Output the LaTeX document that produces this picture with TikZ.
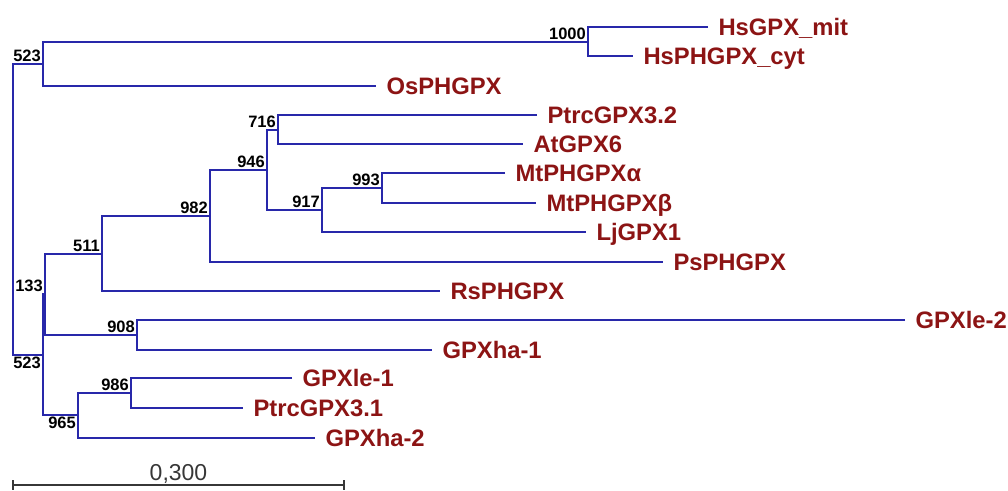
\documentclass[tikz,border=0pt]{standalone}
\usepackage{fontspec}
\setmainfont{Liberation Sans}
\definecolor{TreeBlue}{RGB}{40, 40, 170}
\definecolor{LeafRed}{RGB}{140, 20, 20}
\definecolor{ScaleGray}{RGB}{55, 55, 55}
\usetikzlibrary{positioning}

\tikzset{
  branch/.style={draw=TreeBlue, line width=1.8pt},
  leaf/.style={anchor=west, inner sep=0pt, outer xsep=10.5pt, outer ysep=0pt,
    text height=17pt, text depth=0pt, text=LeafRed,
    font=\fontsize{23.8}{26}\selectfont\bfseries},
  boot/.style={anchor=south east, inner sep=2pt,
    font=\fontsize{16.5}{18}\selectfont\bfseries},
  bootlow/.style={boot, anchor=north east},
  scalebar/.style={draw=ScaleGray, line width=1.8pt}
}

\begin{document}
\begin{tikzpicture}[x=1pt, y=-1pt]
    \useasboundingbox (0,0) rectangle (1008,490);

    % inner nodes of the tree
    \coordinate (root) at (13,209);
    \coordinate (n523a) at (43,64);
    \coordinate (n1000) at (588,42);
    \coordinate (n523b) at (43,355);
    \coordinate (n133) at (45,294);
    \coordinate (n511) at (102,254);
    \coordinate (n982) at (210,216);
    \coordinate (n946) at (267,170);
    \coordinate (n716) at (278,130);
    \coordinate (n917) at (322,210);
    \coordinate (n993) at (382,188);
    \coordinate (n908) at (137,335);
    \coordinate (n965) at (78,415);
    \coordinate (n986) at (131,393);

    % leaves
    \node[leaf] (hsmit) at (708,27) {HsGPX\_mit};
    \node[leaf] (hscyt) at (633,56) {HsPHGPX\_cyt};
    \node[leaf] (osph) at (376,86) {OsPHGPX};
    \node[leaf] (ptrc32) at (537,115) {PtrcGPX3.2};
    \node[leaf] (atgpx6) at (523,144) {AtGPX6};
    \node[leaf] (mtalpha) at (505,173) {MtPHGPXα};
    \node[leaf] (mtbeta) at (536,203) {MtPHGPXβ};
    \node[leaf] (ljgpx1) at (586,232) {LjGPX1};
    \node[leaf] (psph) at (663,262) {PsPHGPX};
    \node[leaf] (rsph) at (440,291) {RsPHGPX};
    \node[leaf] (le2) at (905,320) {GPXle-2};
    \node[leaf] (ha1) at (432,350) {GPXha-1};
    \node[leaf] (le1) at (292,378) {GPXle-1};
    \node[leaf] (ptrc31) at (243,408) {PtrcGPX3.1};
    \node[leaf] (ha2) at (315,438) {GPXha-2};

    % branches
    \draw[branch] (n523a) -| (root) |- (n523b);
    \draw[branch] (n1000) -| (n523a) |- (osph.west);
    \draw[branch] (hsmit.west) -| (n1000) |- (hscyt.west);
    \draw[branch] (n133) -| (n523b) |- (n965);
    \draw[branch] (n511) -| (n133) |- (n908);
    \draw[branch] (n982) -| (n511) |- (rsph.west);
    \draw[branch] (n946) -| (n982) |- (psph.west);
    \draw[branch] (n716) -| (n946) |- (n917);
    \draw[branch] (ptrc32.west) -| (n716) |- (atgpx6.west);
    \draw[branch] (n993) -| (n917) |- (ljgpx1.west);
    \draw[branch] (mtalpha.west) -| (n993) |- (mtbeta.west);
    \draw[branch] (le2.west) -| (n908) |- (ha1.west);
    \draw[branch] (n986) -| (n965) |- (ha2.west);
    \draw[branch] (le1.west) -| (n986) |- (ptrc31.west);

    % bootstrap values
    \node[boot] (b523a) at (n523a) {523};
    \node[boot] (b1000) at (n1000) {1000};
    \node[bootlow] (b523b) at (n523b) {523};
    \node[boot] (b133) at (n133) {133};
    \node[boot] (b511) at (n511) {511};
    \node[boot] (b982) at (n982) {982};
    \node[boot] (b946) at (n946) {946};
    \node[boot] (b716) at (n716) {716};
    \node[boot] (b917) at (n917) {917};
    \node[boot] (b993) at (n993) {993};
    \node[boot] (b908) at (n908) {908};
    \node[bootlow] (b965) at (n965) {965};
    \node[boot] (b986) at (n986) {986};

    % scale bar
    \coordinate (sbl) at (13,485);
    \coordinate (sbr) at (344,485);
    \draw[scalebar] (sbl) -- (sbr);
    \draw[scalebar] (sbl) ++(0,-5) -- ++(0,10);
    \draw[scalebar] (sbr) ++(0,-5) -- ++(0,10);
    \node[anchor=base, inner sep=0pt, text=ScaleGray, font=\fontsize{23}{26}\selectfont]
      (sclabel) at (178.5,480) {0,300};
\end{tikzpicture}
\end{document}
